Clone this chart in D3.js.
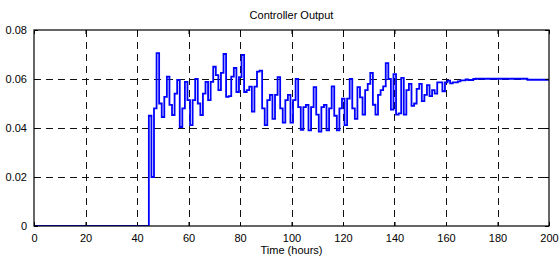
<!DOCTYPE html>
<html><head><meta charset="utf-8">
<script src="https://cdn.jsdelivr.net/npm/d3@7"></script>
<style>body{margin:0;background:#fff}svg{display:block}</style>
</head><body><svg id="c" width="560" height="260"></svg>
<script>
const chartTitle = "Controller Output";
const xAxisLabel = "Time (hours)";
const xTickValues = [0, 20, 40, 60, 80, 100, 120, 140, 160, 180, 200];
const yTickValues = [0, 0.02, 0.04, 0.06, 0.08];
const xTickLabels = ["0","20","40","60","80","100","120","140","160","180","200"];
const yTickLabels = ["0","0.02","0.04","0.06","0.08"];
const timeStart = 0, timeEnd = 200;
const firstMoveHour = 44.6;   // controller switches on
const sampleHours = 1;        // controller updates hourly
const outputValues = [
  0.045, 0.020, 0.048, 0.0706, 0.050, 0.0445, 0.0527, 0.061, 0.0494, 0.0453,
  0.054, 0.0596, 0.0404, 0.048, 0.0588, 0.0514, 0.0412, 0.0514, 0.060, 0.050,
  0.0453, 0.054, 0.0588, 0.0514, 0.0588, 0.065, 0.0616, 0.0555, 0.0625, 0.0702,
  0.0527, 0.053, 0.061, 0.0645, 0.0547, 0.0608, 0.0698, 0.0547, 0.0555, 0.0569,
  0.0467, 0.0569, 0.063, 0.0634, 0.048, 0.0412, 0.0514, 0.0535, 0.0437, 0.0535,
  0.0608, 0.048, 0.0422, 0.0514, 0.0535, 0.0422, 0.0514, 0.060, 0.0485, 0.0392,
  0.0485, 0.0494, 0.039, 0.0485, 0.0567, 0.0455, 0.0385, 0.0485, 0.0494, 0.039,
  0.048, 0.057, 0.045, 0.039, 0.048, 0.052, 0.0412, 0.052, 0.060, 0.048,
  0.0437, 0.0567, 0.0525, 0.0455, 0.0555, 0.058, 0.0625, 0.0495, 0.0455, 0.0535,
  0.0555, 0.057, 0.0665, 0.060, 0.0475, 0.062, 0.0455, 0.046, 0.0605, 0.0455,
  0.0555, 0.058, 0.049, 0.050, 0.056, 0.058, 0.051, 0.0535, 0.0575, 0.053,
  0.0555, 0.054, 0.0586, 0.0586, 0.055, 0.0586, 0.0593, 0.0582, 0.0586, 0.0586,
  0.059, 0.0594, 0.0594, 0.0598, 0.0596, 0.0596, 0.0600, 0.0601, 0.0601, 0.0601,
  0.0601, 0.0601, 0.0601, 0.0601, 0.0601, 0.0601, 0.0601, 0.0601, 0.0601, 0.0601,
  0.0601, 0.0601, 0.0601, 0.0601, 0.0601, 0.0601, 0.0601,
  0.0597, 0.0597, 0.0597, 0.0597, 0.0597, 0.0597, 0.0597, 0.0597, 0.0597
];

const svg = d3.select("#c");
const W = 560, H = 260;
const m = {left: 34, right: 11, top: 30, bottom: 34};
const iw = W - m.left - m.right, ih = H - m.top - m.bottom;
const x = d3.scaleLinear().domain([timeStart, timeEnd]).range([m.left, m.left + iw]);
const y = d3.scaleLinear().domain([0, 0.08]).range([m.top + ih, m.top]);
const font = "'Liberation Sans', Arial, sans-serif";

// points: zero before the controller starts, then hourly steps
const pts = [[timeStart, 0], [firstMoveHour, 0]];
outputValues.forEach((v, i) => pts.push([firstMoveHour + i * sampleHours, v]));
pts.push([timeEnd, outputValues[outputValues.length - 1]]);

svg.append("rect").attr("width", W).attr("height", H).attr("fill", "#fff");

svg.append("defs").append("clipPath").attr("id", "clip")
  .append("rect").attr("x", m.left).attr("y", m.top).attr("width", iw).attr("height", ih);

// grid
const grid = svg.append("g").attr("stroke", "#111").attr("stroke-width", 1)
  .attr("stroke-dasharray", "7,5").attr("shape-rendering", "crispEdges");
grid.selectAll(".gx").data(xTickValues.slice(1, -1)).join("line")
  .attr("x1", d => Math.round(x(d)) + 0.5).attr("x2", d => Math.round(x(d)) + 0.5)
  .attr("y1", m.top).attr("y2", m.top + ih);
grid.selectAll(".gy").data(yTickValues.slice(1, -1)).join("line")
  .attr("y1", d => Math.round(y(d)) + 0.5).attr("y2", d => Math.round(y(d)) + 0.5)
  .attr("x1", m.left).attr("x2", m.left + iw);

// data line
const line = d3.line().x(d => x(d[0])).y(d => y(d[1])).curve(d3.curveStepAfter);
svg.append("path").datum(pts).attr("clip-path", "url(#clip)")
  .attr("fill", "none").attr("stroke", "#0000ff").attr("stroke-width", 1.8)
  .attr("stroke-linejoin", "miter").attr("d", line);

// axes (inner ticks, MATLAB style)
const xAxis = d3.axisBottom(x).tickValues(xTickValues).tickSizeInner(-4).tickSizeOuter(0)
  .tickPadding(8).tickFormat((d, i) => xTickLabels[i]);
const yAxis = d3.axisLeft(y).tickValues(yTickValues).tickSizeInner(-4).tickSizeOuter(0)
  .tickPadding(7).tickFormat((d, i) => yTickLabels[i]);
const gx = svg.append("g").attr("transform", `translate(0,${m.top + ih})`).call(xAxis);
const gy = svg.append("g").attr("transform", `translate(${m.left},0)`).call(yAxis);
const gxt = svg.append("g").attr("transform", `translate(0,${m.top})`)
  .call(d3.axisTop(x).tickValues(xTickValues).tickSizeInner(-4).tickSizeOuter(0).tickFormat(""));
const gyr = svg.append("g").attr("transform", `translate(${m.left + iw},0)`)
  .call(d3.axisRight(y).tickValues(yTickValues).tickSizeInner(-4).tickSizeOuter(0).tickFormat(""));
[gx, gy, gxt, gyr].forEach(g => {
  g.select(".domain").remove();
  g.selectAll("line").attr("stroke", "#000");
  g.selectAll("text").attr("font-family", font).attr("font-size", 11).attr("fill", "#000");
});

// box
svg.append("rect").attr("x", m.left).attr("y", m.top).attr("width", iw).attr("height", ih)
  .attr("fill", "none").attr("stroke", "#000").attr("stroke-width", 1.2);

// title and label
svg.append("text").attr("x", m.left + iw / 2).attr("y", 19).attr("text-anchor", "middle")
  .attr("font-family", font).attr("font-size", 11).text(chartTitle);
svg.append("text").attr("x", m.left + iw / 2).attr("y", 254).attr("text-anchor", "middle")
  .attr("font-family", font).attr("font-size", 11).text(xAxisLabel);
</script>
</body></html>
